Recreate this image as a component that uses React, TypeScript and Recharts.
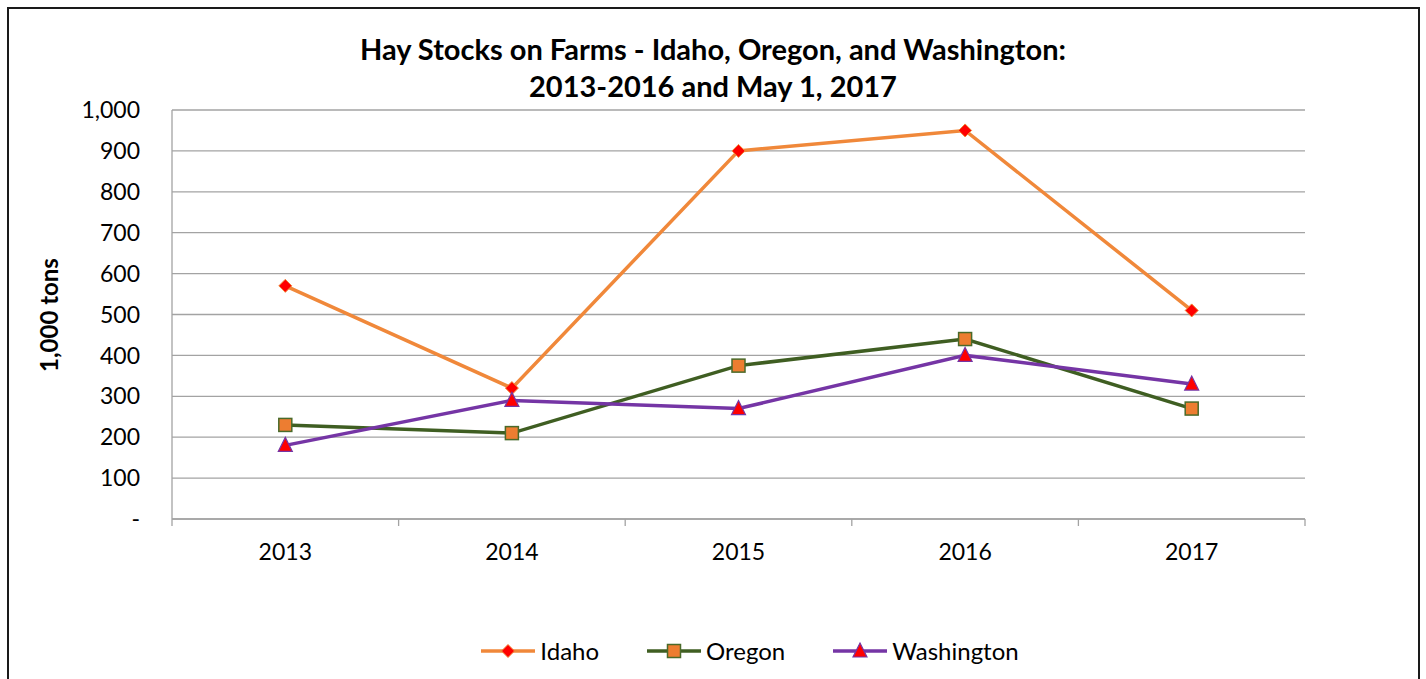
import { LineChart, Line, XAxis, YAxis, CartesianGrid } from 'recharts'

const years = ['2013', '2014', '2015', '2016', '2017']
const idaho = [570, 320, 900, 950, 510]
const oregon = [230, 210, 375, 440, 270]
const washington = [180, 290, 270, 400, 330]
const yTicks = [0, 100, 200, 300, 400, 500, 600, 700, 800, 900, 1000]
const xTicks = [-0.5, 0, 0.5, 1, 1.5, 2, 2.5, 3, 3.5, 4, 4.5]

const rows = years.map((year, i) => ({
  x: i,
  year,
  idaho: idaho[i],
  oregon: oregon[i],
  washington: washington[i],
}))

const FONT = 'Lato, "Open Sans", sans-serif'
const GRID = '#a3a3a3'

const series = [
  { key: 'idaho', name: 'Idaho', color: '#f0883a', shape: 'diamond' },
  { key: 'oregon', name: 'Oregon', color: '#3f5e22', shape: 'square' },
  { key: 'washington', name: 'Washington', color: '#7535a5', shape: 'triangle' },
]

function Marker({ shape, cx, cy }: { shape: string; cx: number; cy: number }) {
  if (shape === 'diamond') {
    const r = 6.5
    return (
      <path
        d={`M${cx},${cy - r} L${cx + r},${cy} L${cx},${cy + r} L${cx - r},${cy} Z`}
        fill="#ff0000"
        stroke="#f0883a"
        strokeWidth={1}
      />
    )
  }
  if (shape === 'square') {
    const s = 6.5
    return (
      <rect x={cx - s} y={cy - s} width={s * 2} height={s * 2} fill="#ed7d31" stroke="#4a6a2a" strokeWidth={1.5} />
    )
  }
  const r = 7
  return (
    <path
      d={`M${cx},${cy - 8} L${cx + r},${cy + 6} L${cx - r},${cy + 6} Z`}
      fill="#ff0000"
      stroke="#7535a5"
      strokeWidth={1.2}
    />
  )
}

const makeDot = (shape: string) => (props: any) => {
  const { cx, cy, index } = props
  if (cx == null || cy == null) return <g key={index} />
  return (
    <g key={index}>
      <Marker shape={shape} cx={cx} cy={cy} />
    </g>
  )
}

// half positions are category boundaries (tick marks), whole ones carry the year
function XTick(props: any) {
  const { x, y, payload } = props
  const v = payload.value
  if (Math.abs(v - Math.round(v)) > 0.01) {
    return <line x1={x} y1={y} x2={x} y2={y + 7} stroke={GRID} strokeWidth={1.3} />
  }
  return (
    <text x={x} y={y + 41} textAnchor="middle" fill="#000" fontFamily={FONT} fontSize={23}>
      {years[Math.round(v)]}
    </text>
  )
}

function LegendRow() {
  return (
    <div style={{ display: 'flex', justifyContent: 'center', alignItems: 'center', fontFamily: FONT, fontSize: 24, color: '#000' }}>
      {series.map((s, i) => (
        <div key={s.key} style={{ display: 'flex', alignItems: 'center', marginLeft: i === 0 ? 0 : 48 }}>
          <svg width={54} height={20}>
            <line x1={0} y1={10} x2={54} y2={10} stroke={s.color} strokeWidth={3.5} />
            <Marker shape={s.shape} cx={27} cy={10} />
          </svg>
          <span style={{ marginLeft: 5 }}>{s.name}</span>
        </div>
      ))}
    </div>
  )
}

export default function App() {
  return (
    <div style={{ position: 'absolute', left: 0, top: 0, width: 1426, height: 679, overflow: 'hidden', background: '#fff' }}>
      <div
        style={{
          position: 'absolute',
          left: 7,
          top: 7,
          width: 1413,
          height: 720,
          border: '2px solid #1a1a1a',
          boxSizing: 'border-box',
        }}
      />
      <div
        style={{
          position: 'absolute',
          left: 0,
          top: 30,
          width: 1426,
          textAlign: 'center',
          fontFamily: FONT,
          fontWeight: 700,
          fontSize: 29,
          lineHeight: '37px',
          color: '#000',
        }}
      >
        Hay Stocks on Farms - Idaho, Oregon, and Washington:
        <br />
        2013-2016 and May 1, 2017
      </div>
      <div
        style={{
          position: 'absolute',
          left: 48,
          top: 315,
          transform: 'translate(-50%, -50%) rotate(-90deg)',
          fontFamily: FONT,
          fontWeight: 700,
          fontSize: 24,
          whiteSpace: 'nowrap',
          color: '#000',
        }}
      >
        1,000 tons
      </div>
      <div style={{ position: 'absolute', left: 0, top: 0 }}>
        <LineChart width={1426} height={679} data={rows} margin={{ top: 110, right: 121, bottom: 100, left: 112 }}>
          <CartesianGrid horizontal vertical={false} stroke={GRID} strokeWidth={1.3} />
          <XAxis
            dataKey="x"
            type="number"
            domain={[-0.5, 4.5]}
            ticks={xTicks}
            interval={0}
            tick={<XTick />}
            tickLine={false}
            tickSize={0}
            tickMargin={0}
            axisLine={{ stroke: GRID, strokeWidth: 1.3 }}
            height={60}
            allowDecimals
          />
          <YAxis
            domain={[0, 1000]}
            ticks={yTicks}
            interval={0}
            width={60}
            tickFormatter={(v: number) => (v === 0 ? '-' : v.toLocaleString('en-US'))}
            tickLine={false}
            tickSize={0}
            tickMargin={32}
            axisLine={{ stroke: GRID, strokeWidth: 1.3 }}
            tick={{ fill: '#000', fontFamily: FONT, fontSize: 23 }}
          />
          {series.map((s) => (
            <Line
              key={s.key}
              dataKey={s.key}
              name={s.name}
              stroke={s.color}
              strokeWidth={3.5}
              dot={makeDot(s.shape)}
              activeDot={false}
              isAnimationActive={false}
            />
          ))}
        </LineChart>
      </div>
      <div style={{ position: 'absolute', left: 37, top: 636, width: 1426 }}>
        <LegendRow />
      </div>
    </div>
  )
}
